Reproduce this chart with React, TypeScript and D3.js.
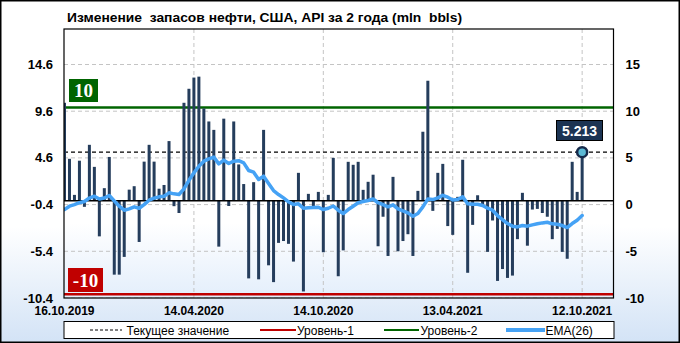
import React from "react";
import * as d3 from "d3";

const values: number[] = [
  10.5, 4.5, 0.64, 4.3, -0.64, 6.0, 3.64, -3.8, 1.36, 4.7,
  -7.9, -7.9, -6.0, 1.2, 1.57, -4.4, 4.2, 6.0, 4.2, 1.3,
  1.7, 6.4, -0.57, -1.3, 10.5, 12.0, 13.2, 13.3, 9.9, 8.5,
  7.6, -4.9, 8.8, -0.55, 8.5, 3.9, 1.8, -8.3, 2.0, -8.4,
  7.6, -6.9, -8.7, -4.5, -4.3, -4.6, -6.5, 3.0, -9.7, 0.75,
  -0.57, 0.96, -5.5, 0.64, 4.6, -8.07, -5.3, 4.18, 3.86, 4.18,
  1.18, 2.04, 2.8, -4.86, -1.7, -5.9, 2.57, -5.4, -4.3, -3.57,
  -5.9, 1.07, 7.4, 12.86, -1.07, 3.0, 3.96, -2.7, -3.64, 0.43,
  4.4, -7.7, -2.57, 0.6, -0.64, -5.46, -2.1, -8.57, -7.3, -8.25,
  -8.0, -4.1, 0.86, -4.8, -0.93, -0.86, -1.3, -1.7, -4.1, -3.0,
  -5.46, -6.2, 4.18, 0.96, 5.213,
];

const ema26: number[] = [
  -0.93, -0.57, -0.4, -0.2, -0.07, 0.3, 0.5, 0.2, 0.3, 0.57,
  0.0, -0.57, -1.0, -0.86, -0.64, -0.79, -0.4, 0.07, 0.29, 0.43,
  0.5, 0.86, 0.75, 0.68, 1.29, 2.2, 3.0, 3.7, 4.25, 4.5,
  4.68, 3.96, 4.36, 4.0, 4.25, 4.3, 4.07, 3.25, 3.07, 2.29,
  2.64, 1.86, 1.1, 0.68, 0.32, -0.1, -0.4, -0.32, -0.79, -0.75,
  -0.71, -0.68, -0.93, -0.79, -0.55, -1.0, -1.36, -0.93, -0.57, -0.2,
  -0.07, 0.04, 0.2, -0.2, -0.4, -0.64, -0.43, -0.86, -1.07, -1.29,
  -1.64, -1.36, -0.64, 0.2, 0.14, 0.32, 0.6, 0.39, 0.1, 0.14,
  0.43, -0.3, -0.36, -0.36, -0.5, -0.79, -1.0, -1.57, -2.0, -2.43,
  -2.71, -2.79, -2.64, -2.71, -2.57, -2.46, -2.36, -2.29, -2.46, -2.5,
  -2.64, -2.86, -2.43, -2.07, -1.57,
];

const dateLabels: string[] = ["16.10.2019", "14.04.2020", "14.10.2020", "13.04.2021", "12.10.2021"];
const dateTickIndex: number[] = [0, 26, 52, 78, 104];
const leftTicks: number[] = [14.6, 9.6, 4.6, -0.4, -5.4, -10.4];
const rightTickLabels: string[] = ["15", "10", "5", "0", "-5", "-10"];
const level1 = -10;
const level2 = 10;
const currentValue = 5.213;
const title = "Изменение  запасов нефти, США, API за 2 года (mln  bbls)";
const legendItems: string[] = ["Текущее значение", "Уровень-1", "Уровень-2", "EMA(26)"];

const W = 680;
const H = 343;
const PL = 64, PR = 613.5, PT = 29, PB = 298;
const SANS = "'Liberation Sans', Arial, sans-serif";
const SERIF = "'Liberation Serif', 'Times New Roman', serif";

export default function App() {
  const x = d3.scaleLinear().domain([0, 110.3]).range([PL + 0.5, PR]);
  const y = d3.scaleLinear().domain([-10.4, 18.4]).range([PB, PT]);
  const emaLine = d3
    .line<number>()
    .x((_, i) => x(i))
    .y((d) => y(d))
    .curve(d3.curveLinear);
  const last = values.length - 1;
  const barColor = "#253d5c";

  return (
    <svg
      width={W}
      height={H}
      style={{ position: "absolute", left: 0, top: 0, display: "block" }}
    >
      <defs>
        <linearGradient id="bg" x1="0" y1="0" x2="0" y2="1">
          <stop offset="0" stopColor="#ffffff" />
          <stop offset="0.66" stopColor="#ffffff" />
          <stop offset="1" stopColor="#d3e3f6" />
        </linearGradient>
        <linearGradient id="pbg" x1="0" y1="0" x2="0" y2="1">
          <stop offset="0" stopColor="#ffffff" />
          <stop offset="0.72" stopColor="#ffffff" />
          <stop offset="1" stopColor="#e3eefb" />
        </linearGradient>
        <clipPath id="plotClip">
          <rect x={PL} y={PT} width={PR - PL} height={PB - PT} />
        </clipPath>
      </defs>
      <rect x={0} y={0} width={W} height={H} fill="url(#bg)" />
      <rect x={0.75} y={0.75} width={W - 1.5} height={H - 1.5} fill="none" stroke="#000" strokeWidth={1.5} />

      <text
        x={67}
        y={21.5}
        fontFamily={SANS}
        fontWeight="bold"
        fontSize={13}
        textLength={395}
        lengthAdjust="spacingAndGlyphs"
        style={{ whiteSpace: "pre" }}
        fill="#000"
      >
        {title}
      </text>

      <rect x={PL} y={PT} width={PR - PL} height={PB - PT} fill="url(#pbg)" />

      <g clipPath="url(#plotClip)">
        {leftTicks.map((t) => (
          <line
            key={"hg" + t}
            x1={PL}
            x2={PR}
            y1={y(t)}
            y2={y(t)}
            stroke="#c4c4c4"
            strokeDasharray="4,3"
            strokeWidth={1}
          />
        ))}
        {dateTickIndex.slice(1).map((t) => (
          <line
            key={"vg" + t}
            x1={x(t)}
            x2={x(t)}
            y1={PT}
            y2={PB}
            stroke="#c4c4c4"
            strokeDasharray="4,3"
            strokeWidth={1}
          />
        ))}
        <line x1={PL} x2={PR} y1={y(level2)} y2={y(level2)} stroke="#006400" strokeWidth={2.5} />
        <line x1={PL} x2={PR} y1={y(level1)} y2={y(level1)} stroke="#c00000" strokeWidth={2.5} />
        <line x1={PL} x2={PR} y1={y(currentValue)} y2={y(currentValue)} stroke="#000" strokeDasharray="4,3" strokeWidth={1.2} />

        {values.map((v, i) => (
          <rect
            key={"b" + i}
            x={x(i) - 1.5}
            width={3}
            y={Math.min(y(v), y(0))}
            height={Math.abs(y(v) - y(0))}
            fill={barColor}
          />
        ))}
        <line x1={PL} x2={PR} y1={y(0)} y2={y(0)} stroke="#000" strokeWidth={1.5} />
        <path d={emaLine(ema26) || ""} fill="none" stroke="#45a2f5" strokeWidth={3.5} strokeLinejoin="round" strokeLinecap="round" />
      </g>

      <rect x={PL} y={PT} width={PR - PL} height={PB - PT} fill="none" stroke="#000" strokeWidth={1.2} />

      {/* current value marker */}
      <circle cx={x(last)} cy={y(values[last])} r={5} fill="#5cb9d4" stroke="#15294a" strokeWidth={2.5} />
      <rect x={556.5} y={120.5} width={46} height={20} fill="#1c3453" stroke="#000" strokeWidth={1} />
      <text x={579.5} y={135.5} textAnchor="middle" fontFamily={SANS} fontWeight="bold" fontSize={14} fill="#fff">
        {currentValue.toFixed(3)}
      </text>

      {/* level labels */}
      <rect x={69} y={79} width={29} height={23} fill="#006400" />
      <text x={83.5} y={97} textAnchor="middle" fontFamily={SERIF} fontWeight="bold" fontSize={19} fill="#fff">
        {String(level2)}
      </text>
      <rect x={68} y={268} width={35} height={24} fill="#c00000" />
      <text x={85.5} y={286.5} textAnchor="middle" fontFamily={SERIF} fontWeight="bold" fontSize={19} fill="#fff">
        {String(level1)}
      </text>

      {/* left axis */}
      {leftTicks.map((t) => (
        <text
          key={"lt" + t}
          x={53}
          y={y(t) + 4.5}
          textAnchor="end"
          fontFamily={SANS}
          fontWeight="bold"
          fontSize={13}
          fill="#000"
        >
          {t.toFixed(1)}
        </text>
      ))}
      {/* right axis */}
      {leftTicks.map((t, i) => (
        <text
          key={"rt" + t}
          x={625.5}
          y={y(t) + 4.5}
          textAnchor="start"
          fontFamily={SANS}
          fontWeight="bold"
          fontSize={13}
          fill="#000"
        >
          {rightTickLabels[i]}
        </text>
      ))}
      {/* bottom axis */}
      {dateTickIndex.map((t, i) => (
        <text
          key={"dt" + t}
          x={x(t)}
          y={315}
          textAnchor="middle"
          fontFamily={SANS}
          fontWeight="bold"
          fontSize={12}
          fill="#000"
        >
          {dateLabels[i]}
        </text>
      ))}

      {/* legend */}
      <rect x={64} y={321.5} width={550} height={17} fill="#fff" stroke="#000" strokeWidth={1} />
      <line x1={90} x2={122} y1={330} y2={330} stroke="#000" strokeDasharray="3,2" strokeWidth={1} />
      <text x={126.5} y={334.5} fontFamily={SANS} fontSize={12} fill="#000">{legendItems[0]}</text>
      <line x1={260} x2={296} y1={330} y2={330} stroke="#c00000" strokeWidth={2} />
      <text x={297} y={334.5} fontFamily={SANS} fontSize={12} fill="#000">{legendItems[1]}</text>
      <line x1={384} x2={419} y1={330} y2={330} stroke="#006400" strokeWidth={2} />
      <text x={420.5} y={334.5} fontFamily={SANS} fontSize={12} fill="#000">{legendItems[2]}</text>
      <line x1={506} x2={545} y1={330} y2={330} stroke="#45a2f5" strokeWidth={4} />
      <text x={545.5} y={334.5} fontFamily={SANS} fontSize={12} fill="#000">{legendItems[3]}</text>
    </svg>
  );
}
